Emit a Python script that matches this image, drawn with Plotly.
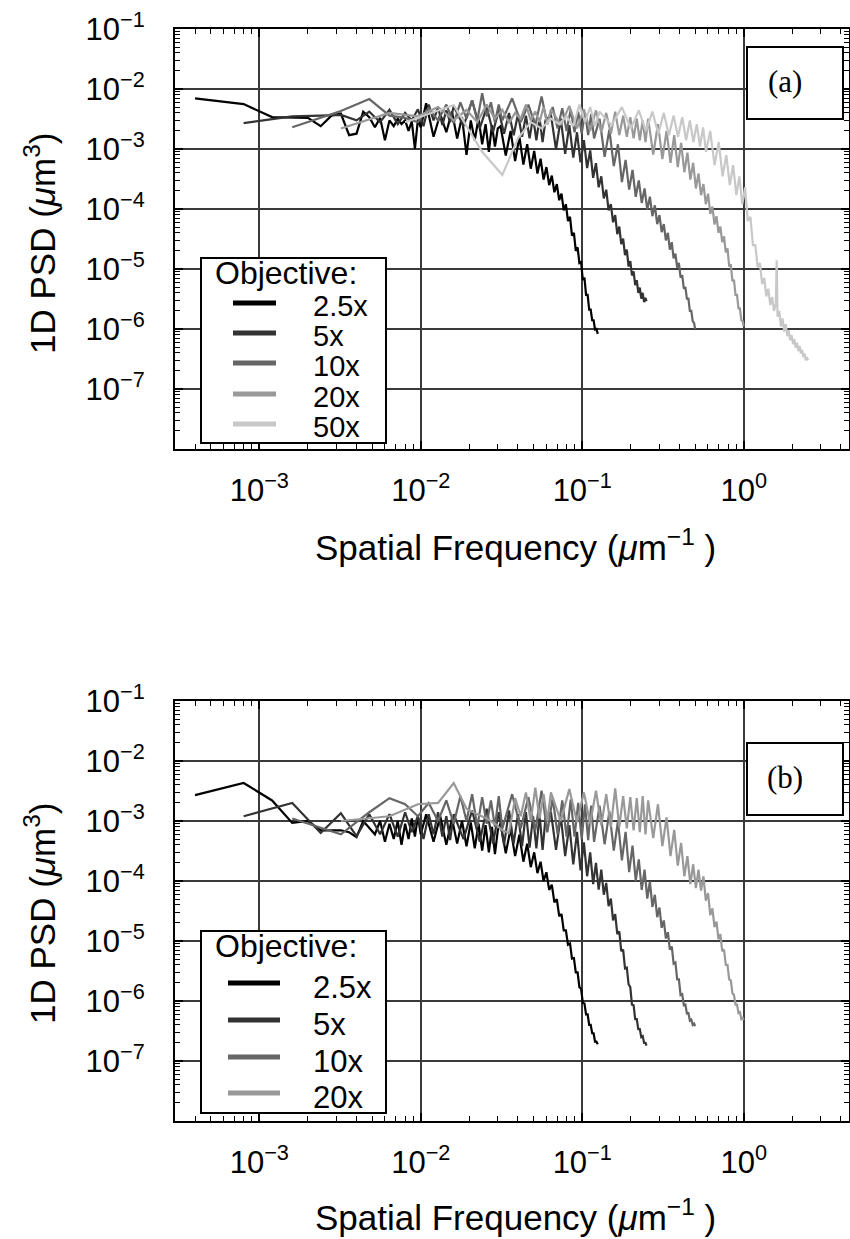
import plotly.graph_objects as go

W, H = 850, 1239

# ---------------- data ----------------
LABELS = ["2.5x", "5x", "10x", "20x", "50x"]
COLORS = ["#000000", "#333333", "#666666", "#999999", "#c8c8c8"]

X_TICKS = [1e-3, 1e-2, 1e-1, 1e0]
X_TICKTEXT = ["10<sup>\u22123</sup>", "10<sup>\u22122</sup>", "10<sup>\u22121</sup>", "10<sup>0</sup>"]
Y_TICKS = [1e-7, 1e-6, 1e-5, 1e-4, 1e-3, 1e-2, 1e-1]
Y_TICKTEXT = ["10<sup>\u22127</sup>", "10<sup>\u22126</sup>", "10<sup>\u22125</sup>", "10<sup>\u22124</sup>",
              "10<sup>\u22123</sup>", "10<sup>\u22122</sup>", "10<sup>\u22121</sup>"]

# spatial frequencies (um^-1) for each objective
FREQ_25 = [0.0004, 0.0008, 0.0012, 0.0016, 0.0020, 0.0024, 0.0028, 0.0032, 0.0036, 0.0040,
           0.0044, 0.0048, 0.0052, 0.0056, 0.0060, 0.0064, 0.0068, 0.0072, 0.0076, 0.0080,
           0.0084, 0.0088, 0.0092, 0.0096, 0.0100,
           0.0108, 0.0120, 0.0132, 0.0144, 0.0156, 0.0168, 0.0180, 0.0192, 0.0204, 0.0216,
           0.0228, 0.0240, 0.0252, 0.0264, 0.0276, 0.0288, 0.0300,
           0.0312, 0.0336, 0.0360, 0.0384, 0.0408, 0.0432, 0.0456, 0.0480, 0.0504, 0.0528,
           0.0552, 0.0576, 0.0600, 0.0624, 0.0648, 0.0672, 0.0696, 0.0720, 0.0744, 0.0768,
           0.0792, 0.0816, 0.0840, 0.0864, 0.0888, 0.0912, 0.0936, 0.0960, 0.0984, 0.1008,
           0.1032, 0.1056, 0.1080, 0.1104, 0.1128, 0.1152, 0.1176, 0.1200, 0.1224, 0.1248]
FREQ_5 = [0.0008, 0.0016, 0.0024, 0.0032, 0.0040, 0.0048, 0.0056, 0.0064, 0.0072, 0.0080,
          0.0088, 0.0096, 0.0104, 0.0112, 0.0120, 0.0128, 0.0136, 0.0144, 0.0152, 0.0160,
          0.0184, 0.0208, 0.0232, 0.0256, 0.0280, 0.0304, 0.0328, 0.0352, 0.0376, 0.0400,
          0.0424, 0.0448, 0.0472, 0.0496, 0.0520, 0.0544, 0.0568, 0.0592,
          0.0640, 0.0688, 0.0736, 0.0784, 0.0832, 0.0880, 0.0928, 0.0976, 0.1024, 0.1072,
          0.1120, 0.1168, 0.1216, 0.1264, 0.1312, 0.1360, 0.1408, 0.1456, 0.1504, 0.1552,
          0.1600, 0.1648, 0.1696, 0.1744, 0.1792, 0.1840, 0.1888, 0.1936, 0.1984, 0.2032,
          0.2080, 0.2128, 0.2176, 0.2224, 0.2272, 0.2320, 0.2368, 0.2416, 0.2464, 0.2500]
FREQ_10 = [0.0016, 0.0032, 0.0048, 0.0064, 0.0080, 0.0096, 0.0112, 0.0128, 0.0144, 0.0160,
           0.0176, 0.0192, 0.0208, 0.0224, 0.0240, 0.0256, 0.0272, 0.0288, 0.0304, 0.0320,
           0.0368, 0.0416, 0.0464, 0.0512, 0.0560, 0.0608, 0.0656, 0.0704, 0.0752, 0.0800,
           0.0848, 0.0896, 0.0944, 0.0992, 0.1040, 0.1088, 0.1136, 0.1184,
           0.1280, 0.1376, 0.1472, 0.1568, 0.1664, 0.1760, 0.1856, 0.1952, 0.2048, 0.2144,
           0.2240, 0.2336, 0.2432, 0.2528, 0.2624, 0.2720, 0.2816, 0.2912, 0.3008, 0.3104,
           0.3200, 0.3296, 0.3392, 0.3488, 0.3584, 0.3680, 0.3776, 0.3872, 0.3968, 0.4064,
           0.4160, 0.4256, 0.4352, 0.4448, 0.4544, 0.4640, 0.4736, 0.4832, 0.4928, 0.5000]
FREQ_20 = [0.0032, 0.0064, 0.0096, 0.0128, 0.0160, 0.0192, 0.0224, 0.0256, 0.0288, 0.0320,
           0.0352, 0.0384, 0.0416, 0.0448, 0.0480, 0.0512, 0.0544, 0.0576, 0.0608, 0.0640,
           0.0736, 0.0832, 0.0928, 0.1024, 0.1120, 0.1216, 0.1312, 0.1408, 0.1504, 0.1600,
           0.1696, 0.1792, 0.1888, 0.1984, 0.2080, 0.2176, 0.2272, 0.2368, 0.2464,
           0.2560, 0.2752, 0.2944, 0.3136, 0.3328, 0.3520, 0.3712, 0.3904, 0.4096, 0.4288,
           0.4480, 0.4672, 0.4864, 0.5056, 0.5248, 0.5440, 0.5632, 0.5824, 0.6016, 0.6208,
           0.6400, 0.6592, 0.6784, 0.6976, 0.7168, 0.7360, 0.7552, 0.7744, 0.7936, 0.8128,
           0.8320, 0.8512, 0.8704, 0.8896, 0.9088, 0.9280, 0.9472, 0.9664, 0.9856, 1.0000]
FREQ_50 = [0.008, 0.016, 0.024, 0.032, 0.040, 0.048, 0.056, 0.064, 0.072, 0.080,
           0.088, 0.096, 0.104, 0.112, 0.120, 0.128,
           0.152, 0.176, 0.200, 0.224, 0.248, 0.272, 0.296, 0.320, 0.344, 0.368,
           0.392, 0.416, 0.440, 0.464, 0.488, 0.512, 0.536, 0.560, 0.584,
           0.62, 0.66, 0.70, 0.74, 0.78, 0.82, 0.86, 0.90, 0.94, 0.98,
           1.02, 1.06, 1.10, 1.14, 1.18, 1.22, 1.26, 1.30, 1.34, 1.38,
           1.42, 1.46, 1.50, 1.54, 1.58, 1.60, 1.62, 1.66, 1.70, 1.74,
           1.78, 1.82, 1.86, 1.90, 1.94, 1.98, 2.02, 2.06, 2.10, 2.14,
           2.18, 2.22, 2.26, 2.30, 2.34, 2.38, 2.42, 2.46, 2.50]

# panel (a) PSD values (um^3)
PSD_A_25 = [7.0e-3, 5.6e-3, 3.4e-3, 3.3e-3, 3.3e-3, 2.4e-3, 3.6e-3, 3.9e-3, 1.7e-3, 1.8e-3,
            4.2e-3, 3.4e-3, 2.3e-3, 3.3e-3, 1.4e-3, 3.0e-3, 2.4e-3, 3.2e-3, 2.6e-3, 3.0e-3,
            2.0e-3, 2.9e-3, 1.0e-3, 3.1e-3, 2.3e-3,
            5.8e-3, 1.6e-3, 3.8e-3, 1.9e-3, 4.2e-3, 1.5e-3, 3.4e-3, 8.0e-4, 3.0e-3, 1.4e-3,
            3.3e-3, 1.2e-3, 2.6e-3, 9.0e-4, 2.5e-3, 1.1e-3, 2.2e-3,
            2.4e-3, 7.8e-4, 2.0e-3, 6.3e-4, 1.6e-3, 5.5e-4, 1.2e-3, 4.7e-4, 9.3e-4, 3.9e-4,
            6.9e-4, 3.1e-4, 5.0e-4, 2.5e-4, 3.6e-4, 1.9e-4, 2.6e-4, 1.4e-4, 1.8e-4, 9.5e-5,
            1.2e-4, 6.3e-5, 7.4e-5, 3.6e-5, 4.0e-5, 2.0e-5, 2.3e-5, 1.26e-5, 1.3e-5, 6.6e-6,
            7.2e-6, 3.7e-6, 3.7e-6, 2.1e-6, 2.1e-6, 1.4e-6, 1.4e-6, 9.8e-7, 1.0e-6, 8.3e-7]
PSD_A_5 = [2.7e-3, 3.5e-3, 3.6e-3, 3.7e-3, 3.0e-3, 4.2e-3, 2.8e-3, 4.5e-3, 2.6e-3, 4.0e-3,
           3.0e-3, 4.6e-3, 2.4e-3, 5.5e-3, 3.0e-3, 5.0e-3, 2.5e-3, 4.4e-3, 2.8e-3, 5.2e-3,
           2.4e-3, 6.5e-3, 2.2e-3, 5.0e-3, 1.9e-3, 4.4e-3, 1.8e-3, 4.0e-3, 1.7e-3, 3.8e-3,
           1.6e-3, 3.6e-3, 1.5e-3, 3.4e-3, 1.4e-3, 3.3e-3, 1.3e-3, 3.0e-3,
           3.7e-3, 9.8e-4, 3.2e-3, 8.3e-4, 2.5e-3, 7.2e-4, 1.9e-3, 6.0e-4, 1.4e-3, 4.8e-4,
           9.5e-4, 3.3e-4, 5.8e-4, 2.3e-4, 3.5e-4, 1.5e-4, 2.1e-4, 9.5e-5, 1.2e-4, 6.0e-5,
           7.9e-5, 3.8e-5, 5.1e-5, 2.6e-5, 3.2e-5, 1.7e-5, 2.1e-5, 1.1e-5, 1.35e-5, 7.8e-6,
           9.1e-6, 5.4e-6, 6.5e-6, 4.0e-6, 4.9e-6, 3.2e-6, 4.0e-6, 2.8e-6, 3.3e-6, 2.9e-6]
PSD_A_10 = [2.3e-3, 4.3e-3, 6.8e-3, 3.6e-3, 3.3e-3, 2.8e-3, 4.8e-3, 3.0e-3, 5.5e-3, 2.7e-3,
            6.0e-3, 3.2e-3, 6.5e-3, 3.0e-3, 8.5e-3, 3.5e-3, 6.0e-3, 2.8e-3, 5.5e-3, 3.0e-3,
            7.0e-3, 2.8e-3, 5.5e-3, 2.5e-3, 7.5e-3, 2.6e-3, 5.0e-3, 2.2e-3, 4.8e-3, 2.0e-3,
            4.5e-3, 1.9e-3, 4.2e-3, 1.8e-3, 4.0e-3, 1.7e-3, 3.8e-3, 1.5e-3,
            3.2e-3, 7.4e-4, 2.1e-3, 5.2e-4, 1.2e-3, 2.8e-4, 6.6e-4, 2.1e-4, 4.5e-4, 1.6e-4,
            3.0e-4, 1.26e-4, 2.2e-4, 9.8e-5, 1.6e-4, 7.6e-5, 1.15e-4, 5.6e-5, 7.9e-5, 4.1e-5,
            5.6e-5, 3.0e-5, 4.0e-5, 2.1e-5, 2.8e-5, 1.5e-5, 1.8e-5, 1.05e-5, 1.26e-5, 7.2e-6,
            7.9e-6, 4.7e-6, 5.0e-6, 3.2e-6, 3.2e-6, 2.0e-6, 2.0e-6, 1.35e-6, 1.26e-6, 1.0e-6]
PSD_A_20 = [2.2e-3, 4.0e-3, 3.5e-3, 5.0e-3, 3.0e-3, 4.5e-3, 2.8e-3, 5.5e-3, 3.2e-3, 4.5e-3,
            2.7e-3, 4.0e-3, 3.2e-3, 5.5e-3, 3.0e-3, 4.2e-3, 2.8e-3, 5.0e-3, 2.6e-3, 4.6e-3,
            2.5e-3, 5.2e-3, 2.2e-3, 4.6e-3, 2.0e-3, 4.4e-3, 1.9e-3, 4.0e-3, 1.8e-3, 4.2e-3,
            1.7e-3, 3.6e-3, 1.6e-3, 3.4e-3, 1.5e-3, 3.2e-3, 1.4e-3, 3.0e-3, 1.3e-3,
            3.2e-3, 8.1e-4, 2.6e-3, 6.8e-4, 2.0e-3, 5.9e-4, 1.7e-3, 5.0e-4, 1.26e-3, 4.1e-4,
            8.7e-4, 3.1e-4, 5.9e-4, 2.2e-4, 3.9e-4, 1.7e-4, 2.6e-4, 1.2e-4, 1.8e-4, 8.3e-5,
            1.1e-4, 5.5e-5, 7.6e-5, 4.0e-5, 5.1e-5, 2.8e-5, 3.5e-5, 1.9e-5, 2.2e-5, 1.1e-5,
            1.2e-5, 6.3e-6, 6.6e-6, 3.7e-6, 3.7e-6, 2.2e-6, 2.2e-6, 1.4e-6, 1.35e-6, 1.1e-6]
PSD_A_50 = [2.8e-3, 5.4e-3, 9.0e-4, 3.7e-4, 1.5e-3, 2.8e-3, 2.2e-3, 3.2e-3, 2.6e-3, 3.5e-3,
            2.4e-3, 5.5e-3, 2.8e-3, 5.0e-3, 2.4e-3, 4.2e-3,
            2.5e-3, 5.0e-3, 2.2e-3, 4.4e-3, 2.0e-3, 4.2e-3, 1.8e-3, 4.0e-3, 1.7e-3, 3.6e-3,
            1.6e-3, 3.4e-3, 1.4e-3, 3.0e-3, 1.3e-3, 2.6e-3, 1.1e-3, 2.3e-3, 9.0e-4,
            2.0e-3, 5.4e-4, 1.3e-3, 3.5e-4, 7.9e-4, 2.5e-4, 5.4e-4, 1.7e-4, 3.5e-4, 1.2e-4,
            2.3e-4, 6.3e-5, 7.4e-5, 2.5e-5, 2.5e-5, 1.07e-5, 1.26e-5, 5.6e-6, 7.1e-6, 3.5e-6,
            4.7e-6, 2.5e-6, 3.4e-6, 2.0e-6, 2.6e-6, 1.4e-5, 1.6e-6, 2.0e-6, 1.1e-6, 1.5e-6,
            9.1e-7, 1.2e-6, 7.6e-7, 9.5e-7, 6.5e-7, 7.9e-7, 5.6e-7, 6.8e-7, 4.9e-7, 5.9e-7,
            4.3e-7, 5.2e-7, 3.9e-7, 4.5e-7, 3.4e-7, 3.9e-7, 3.0e-7, 3.4e-7, 3.0e-7]

# panel (b) PSD values (um^3)
PSD_B_25 = [2.7e-3, 4.3e-3, 2.2e-3, 9.3e-4, 1.0e-3, 7.0e-4, 7.0e-4, 7.0e-4, 6.5e-4, 5.4e-4,
            1.0e-3, 7.5e-4, 6.0e-4, 1.0e-3, 4.5e-4, 9.0e-4, 5.0e-4, 1.0e-3, 4.0e-4, 9.0e-4,
            5.0e-4, 1.1e-3, 5.5e-4, 1.2e-3, 6.0e-4,
            1.3e-3, 4.5e-4, 1.2e-3, 4.0e-4, 1.1e-3, 4.2e-4, 1.0e-3, 3.8e-4, 9.5e-4, 3.5e-4,
            9.0e-4, 3.2e-4, 8.5e-4, 3.0e-4, 8.0e-4, 2.8e-4, 7.0e-4,
            9.1e-4, 2.9e-4, 7.4e-4, 2.6e-4, 5.9e-4, 2.1e-4, 4.2e-4, 1.7e-4, 3.0e-4, 1.35e-4,
            2.1e-4, 1.0e-4, 1.4e-4, 7.1e-5, 8.7e-5, 4.4e-5, 5.0e-5, 2.6e-5, 2.8e-5, 1.5e-5,
            1.5e-5, 8.7e-6, 9.1e-6, 5.1e-6, 5.2e-6, 3.0e-6, 3.0e-6, 1.7e-6, 1.6e-6, 9.3e-7,
            9.1e-7, 6.0e-7, 6.0e-7, 4.0e-7, 4.0e-7, 2.9e-7, 2.9e-7, 2.1e-7, 2.1e-7, 1.9e-7]
PSD_B_5 = [1.2e-3, 2.0e-3, 6.3e-4, 1.35e-3, 5.6e-4, 1.3e-3, 6.0e-4, 1.3e-3, 5.5e-4, 1.4e-3,
           6.5e-4, 1.2e-3, 5.0e-4, 1.3e-3, 6.0e-4, 1.4e-3, 5.5e-4, 1.2e-3, 4.8e-4, 1.3e-3,
           5.0e-4, 1.5e-3, 4.5e-4, 1.6e-3, 4.2e-4, 1.4e-3, 4.0e-4, 1.5e-3, 4.2e-4, 1.3e-3,
           3.8e-4, 1.4e-3, 3.6e-4, 1.2e-3, 3.5e-4, 1.3e-3, 3.3e-4, 1.1e-3,
           1.4e-3, 3.3e-4, 1.2e-3, 2.6e-4, 8.5e-4, 1.9e-4, 6.6e-4, 1.5e-4, 4.4e-4, 1.2e-4,
           3.0e-4, 8.9e-5, 2.0e-4, 7.2e-5, 1.55e-4, 5.9e-5, 9.3e-5, 3.8e-5, 5.1e-5, 2.2e-5,
           2.8e-5, 1.3e-5, 1.45e-5, 6.8e-6, 7.2e-6, 3.5e-6, 3.6e-6, 1.9e-6, 1.7e-6, 8.7e-7,
           8.5e-7, 5.0e-7, 5.0e-7, 3.4e-7, 3.4e-7, 2.5e-7, 2.6e-7, 2.0e-7, 2.0e-7, 1.8e-7]
PSD_B_10 = [1.1e-3, 6.0e-4, 1.4e-3, 2.4e-3, 1.9e-3, 1.2e-3, 2.0e-3, 1.0e-3, 2.2e-3, 9.0e-4,
            2.6e-3, 1.0e-3, 2.8e-3, 8.0e-4, 2.5e-3, 9.0e-4, 2.2e-3, 8.0e-4, 2.6e-3, 7.5e-4,
            2.8e-3, 7.5e-4, 2.5e-3, 7.0e-4, 3.2e-3, 6.5e-4, 2.4e-3, 6.0e-4, 2.2e-3, 5.5e-4,
            2.3e-3, 5.5e-4, 2.0e-3, 5.0e-4, 1.9e-3, 4.8e-4, 1.8e-3, 4.5e-4,
            1.8e-3, 4.1e-4, 1.45e-3, 3.2e-4, 1.0e-3, 2.2e-4, 6.6e-4, 1.4e-4, 3.9e-4, 1.0e-4,
            2.3e-4, 7.1e-5, 1.55e-4, 5.1e-5, 9.8e-5, 3.7e-5, 5.9e-5, 2.5e-5, 3.6e-5, 1.66e-5,
            2.2e-5, 1.1e-5, 1.4e-5, 7.2e-6, 8.1e-6, 4.2e-6, 4.4e-6, 2.3e-6, 2.3e-6, 1.26e-6,
            1.3e-6, 8.5e-7, 8.7e-7, 6.2e-7, 6.3e-7, 4.7e-7, 4.9e-7, 4.0e-7, 4.2e-7, 3.8e-7]
PSD_B_20 = [1.0e-3, 1.2e-3, 1.9e-3, 2.0e-3, 4.3e-3, 1.6e-3, 1.3e-3, 1.1e-3, 9.0e-4, 7.0e-4,
            6.3e-4, 2.4e-3, 1.2e-3, 3.0e-3, 1.0e-3, 3.6e-3, 1.1e-3, 2.8e-3, 1.0e-3, 3.0e-3,
            1.0e-3, 3.4e-3, 9.5e-4, 3.0e-3, 9.0e-4, 3.2e-3, 8.5e-4, 2.8e-3, 8.0e-4, 3.5e-3,
            8.0e-4, 2.6e-3, 7.5e-4, 2.5e-3, 7.0e-4, 2.4e-3, 6.5e-4, 2.6e-3, 6.0e-4,
            2.2e-3, 5.2e-4, 1.9e-3, 3.8e-4, 1.15e-3, 2.6e-4, 7.1e-4, 1.8e-4, 4.3e-4, 1.2e-4,
            2.6e-4, 8.9e-5, 1.9e-4, 7.6e-5, 1.55e-4, 6.9e-5, 1.2e-4, 4.7e-5, 6.3e-5, 2.7e-5,
            3.5e-5, 1.7e-5, 2.1e-5, 1.07e-5, 1.3e-5, 6.8e-6, 7.2e-6, 4.0e-6, 4.0e-6, 2.3e-6,
            2.2e-6, 1.35e-6, 1.26e-6, 8.7e-7, 8.7e-7, 6.3e-7, 6.5e-7, 5.0e-7, 5.2e-7, 4.8e-7]

FREQS = [FREQ_25, FREQ_5, FREQ_10, FREQ_20, FREQ_50]
PSD_A = [PSD_A_25, PSD_A_5, PSD_A_10, PSD_A_20, PSD_A_50]
PSD_B = [PSD_B_25, PSD_B_5, PSD_B_10, PSD_B_20]


# ---------------- layout helpers (pixel -> paper) ----------------
def px(x):
    return x / W


def py(y):
    return 1 - y / H


FONT = "Liberation Sans, Arial, Helvetica, sans-serif"

fig = go.Figure()
for f, p, c, name in zip(FREQS, PSD_A, COLORS, LABELS):
    fig.add_trace(go.Scatter(x=f, y=p, mode="lines", name=name, showlegend=False,
                             line=dict(color=c, width=2.2), xaxis="x", yaxis="y"))
for f, p, c, name in zip(FREQS[:4], PSD_B, COLORS[:4], LABELS[:4]):
    fig.add_trace(go.Scatter(x=f, y=p, mode="lines", name=name, showlegend=False,
                             line=dict(color=c, width=2.2), xaxis="x2", yaxis="y2"))

minor = dict(ticks="inside", ticklen=5, tickwidth=1, tickcolor="black", dtick="D1", showgrid=False)
axis_common = dict(type="log", tickmode="array", ticks="inside", ticklen=8, tickwidth=1.5,
                   tickcolor="black", showline=True, linewidth=2, linecolor="black",
                   mirror="allticks", showgrid=True, gridcolor="#3a3a3a", gridwidth=1.5,
                   zeroline=False, automargin=False,
                   tickfont=dict(family=FONT, size=31, color="black"), minor=minor)

xr = [-3.522, 0.652]
yr = [-8, -1]
fig.update_layout(
    xaxis=dict(axis_common, range=xr, domain=[px(175), px(849)], anchor="y",
               tickvals=X_TICKS, ticktext=X_TICKTEXT, ticklabelstandoff=13),
    yaxis=dict(axis_common, range=yr, domain=[py(449), py(29)], anchor="x",
               tickvals=Y_TICKS, ticktext=Y_TICKTEXT, ticklabelstandoff=22),
    xaxis2=dict(axis_common, range=xr, domain=[px(175), px(849)], anchor="y2",
                tickvals=X_TICKS, ticktext=X_TICKTEXT, ticklabelstandoff=13),
    yaxis2=dict(axis_common, range=yr, domain=[py(1121), py(701)], anchor="x2",
                tickvals=Y_TICKS, ticktext=Y_TICKTEXT, ticklabelstandoff=22),
    width=W, height=H, autosize=False,
    margin=dict(l=0, r=0, t=0, b=0),
    plot_bgcolor="white", paper_bgcolor="white",
    showlegend=False,
)

shapes = []
annotations = []

# axis titles
for yc in (244, 914):
    annotations.append(dict(x=px(40), y=py(yc), xref="paper", yref="paper", showarrow=False,
                            text="1D PSD (<i>\u03bc</i>m<sup>3</sup>)", textangle=-90,
                            font=dict(family=FONT, size=35, color="black"),
                            xanchor="center", yanchor="middle"))
for yc in (545, 1215):
    annotations.append(dict(x=px(515), y=py(yc), xref="paper", yref="paper", showarrow=False,
                            text="Spatial Frequency (<i>\u03bc</i>m<sup>\u22121</sup> )",
                            font=dict(family=FONT, size=35, color="black"),
                            xanchor="center", yanchor="middle"))

# panel tags
for (x0, y0, x1, y1, tag) in [(747, 47, 843, 119, "(a)"), (747, 743, 843, 815, "(b)")]:
    shapes.append(dict(type="rect", xref="paper", yref="paper", x0=px(x0), x1=px(x1),
                       y0=py(y1), y1=py(y0), line=dict(color="black", width=2),
                       fillcolor="white", layer="above"))
    annotations.append(dict(x=px(785), y=py((y0 + y1) / 2 - 2), xref="paper", yref="paper",
                            showarrow=False, text=tag, xanchor="center", yanchor="middle",
                            font=dict(family="Liberation Serif, Times New Roman, serif",
                                      size=31, color="black")))

# legends
legend_specs = [
    dict(box=(201, 258, 386, 443), title_y=273, rows=[303, 333, 363, 394, 424],
         text_dy=3, lx=(233, 276), n=5, fs=29),
    dict(box=(201, 931, 386, 1113), title_y=946, rows=[983, 1020, 1057, 1093],
         text_dy=4, lx=(228, 280), n=4, fs=31),
]
for spec in legend_specs:
    bx0, by0, bx1, by1 = spec["box"]
    shapes.append(dict(type="rect", xref="paper", yref="paper", x0=px(bx0), x1=px(bx1),
                       y0=py(by1), y1=py(by0), line=dict(color="black", width=2),
                       fillcolor="white", layer="above"))
    annotations.append(dict(x=px(213), y=py(spec["title_y"]), xref="paper", yref="paper",
                            showarrow=False, text="Objective:", xanchor="left", yanchor="middle",
                            font=dict(family=FONT, size=32, color="black")))
    for i in range(spec["n"]):
        ry = spec["rows"][i]
        shapes.append(dict(type="line", xref="paper", yref="paper",
                           x0=px(spec["lx"][0]), x1=px(spec["lx"][1]), y0=py(ry), y1=py(ry),
                           line=dict(color=COLORS[i], width=5), layer="above"))
        annotations.append(dict(x=px(311), y=py(ry + spec["text_dy"]), xref="paper", yref="paper",
                                showarrow=False, text=LABELS[i], xanchor="left", yanchor="middle",
                                font=dict(family=FONT, size=spec["fs"], color="black")))

fig.update_layout(shapes=shapes, annotations=annotations)
fig.write_html("out.html", config={"displayModeBar": False},
               post_script="document.body.style.margin='0px';")
